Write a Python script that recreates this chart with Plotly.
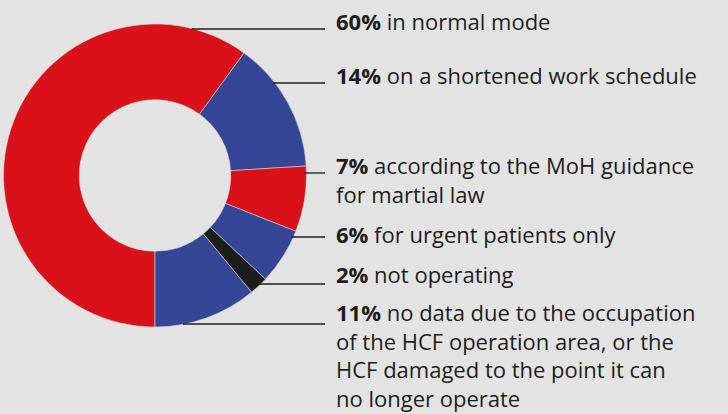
import math
import plotly.graph_objects as go

# ---- data ----
values = [60, 14, 7, 6, 2, 11]
label_lines = [
    ["in normal mode"],
    ["on a shortened work schedule"],
    ["according to the MoH guidance", "for martial law"],
    ["for urgent patients only"],
    ["not operating"],
    ["no data due to the occupation", "of the HCF operation area, or the",
     "HCF damaged to the point it can", "no longer operate"],
]
colors = ["#DA1119", "#344695", "#DA1119", "#344695", "#1D1D1B", "#344695"]

# ---- layout constants (pixels) ----
W, H = 728, 414
BG = "#E3E3E3"
TXT = "#1D1D1B"
cx, cy, R = 155, 175.5, 151.5
label_x = 335
line_end_x = 325
leader_y = [29, 83, 173, 237, 284, 324]
text_y = [19, 73, 163, 232, 272, 310]
FS = 22
FONT = "Open Sans, Lato, sans-serif"

fig = go.Figure(go.Pie(
    values=values,
    labels=[" ".join(l) for l in label_lines],
    marker=dict(colors=colors, line=dict(color="#d8d8d8", width=0.6)),
    hole=0.5, sort=False, direction="clockwise", rotation=180,
    textinfo="none", hoverinfo="label+percent", showlegend=False,
    domain=dict(x=[(cx - R) / W, (cx + R) / W],
                y=[1 - (cy + R) / H, 1 - (cy - R) / H]),
))

shapes = []
annotations = []
for v, lines, ly, ty in zip(values, label_lines, leader_y, text_y):
    dy = abs(ly - cy)
    x0 = cx + math.sqrt(max(R * R - dy * dy, 0)) - 2
    shapes.append(dict(type="line", xref="paper", yref="paper",
                       x0=x0 / W, x1=line_end_x / W,
                       y0=1 - ly / H, y1=1 - ly / H,
                       line=dict(color=TXT, width=1.3)))
    txt = f"<b>{v}%</b> " + "<br>".join(lines)
    annotations.append(dict(
        xref="paper", yref="paper", x=label_x / W,
        y=1 - (ty - 0.65 * FS) / H,
        xanchor="left", yanchor="top", align="left", showarrow=False,
        borderpad=0,
        text=txt, font=dict(family=FONT, size=FS, color=TXT),
    ))

fig.update_layout(
    width=W, height=H, margin=dict(l=0, r=0, t=0, b=0),
    paper_bgcolor=BG, plot_bgcolor=BG,
    shapes=shapes, annotations=annotations,
)
fig.write_html("out.html", config={"displayModeBar": False},
               post_script="document.body.style.margin='0';document.body.style.padding='0';")
